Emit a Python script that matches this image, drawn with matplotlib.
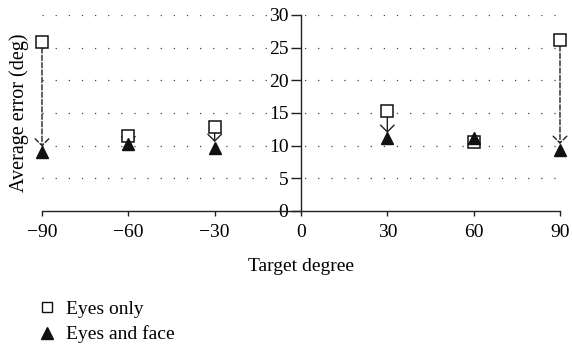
import matplotlib.pyplot as plt
from matplotlib.lines import Line2D

# Average angular error per target direction
target_deg = [-90, -60, -30, 30, 60, 90]
eyes_only = [25.8, 11.5, 12.8, 15.3, 10.6, 26.1]
eyes_and_face = [9.0, 10.2, 9.7, 11.1, 11.2, 9.4]

x_ticks = [-90, -60, -30, 0, 30, 60, 90]
y_ticks = [0, 5, 10, 15, 20, 25, 30]

plt.rcParams['font.family'] = ['Liberation Serif', 'DejaVu Serif']
plt.rcParams['font.size'] = 14

fig = plt.figure(figsize=(5.72, 3.47), dpi=100)
ax = fig.add_axes([0.0734, 0.392, 0.9056, 0.565])

ax.set_xlim(-90, 90)
ax.set_ylim(0, 30)

# spines crossing at the origin
ax.spines['left'].set_position(('data', 0))
ax.spines['right'].set_visible(False)
ax.spines['top'].set_visible(False)
for s in ('left', 'bottom'):
    ax.spines[s].set_color('#222222')
    ax.spines[s].set_linewidth(1.0)

ax.set_xticks(x_ticks)
ax.set_yticks(y_ticks)
ax.tick_params(axis='x', direction='out', length=3.5, width=1.0, pad=6, color='#222222')
ax.tick_params(axis='y', direction='out', length=7, width=1.0, pad=2, color='#222222')
for lbl in ax.get_yticklabels()[1:]:
    lbl.set_bbox(dict(facecolor='white', edgecolor='none', pad=0.5))

# dotted horizontal guides
for y in y_ticks[1:]:
    ax.axhline(y, color='#444444', lw=0.9, dashes=(1, 9.5), zorder=0)

# arrows from eyes-only to eyes-and-face error
for x, a, b in zip(target_deg, eyes_only, eyes_and_face):
    if a - b < 1:
        continue
    ls = '--' if a - b > 10 else '-'
    ax.annotate('', xy=(x, b), xytext=(x, a),
                arrowprops=dict(arrowstyle='->, head_length=0.35, head_width=0.35',
                                color='#222222', lw=1.0, linestyle=ls,
                                shrinkA=4, shrinkB=4),
                annotation_clip=False, zorder=2)

ax.plot(target_deg, eyes_only, linestyle='none', marker='s', ms=8,
        mfc='white', mec='#111111', mew=1.1, clip_on=False, zorder=3)
ax.plot(target_deg, eyes_and_face, linestyle='none', marker='^', ms=8.5,
        mfc='#111111', mec='#111111', clip_on=False, zorder=4)

ax.set_xlabel('Target degree')
ax.xaxis.set_label_coords(0.5, -0.24)
ax.set_ylabel('Average error (deg)', fontsize=14.5)
ax.yaxis.set_label_coords(-0.026, 0.5)

handles = [
    Line2D([], [], linestyle='none', marker='s', ms=7, mfc='white', mec='#111111', mew=1.0),
    Line2D([], [], linestyle='none', marker='^', ms=8, mfc='#111111', mec='#111111'),
]
fig.legend(handles, ['Eyes only', 'Eyes and face'], loc='upper left',
           bbox_to_anchor=(0.0647, 0.135), frameon=False, handlelength=1.0,
           handletextpad=0.5, labelspacing=0.4, borderpad=0, borderaxespad=0)

fig.savefig('out.png', dpi=100)
